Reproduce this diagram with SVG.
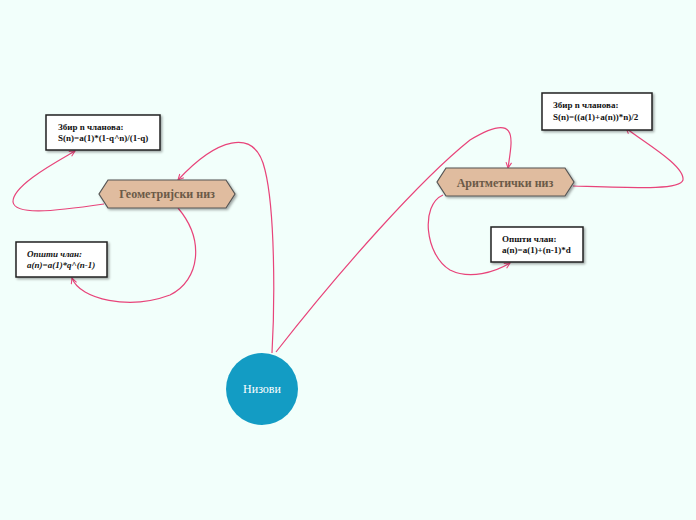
<svg xmlns="http://www.w3.org/2000/svg" width="696" height="520" viewBox="0 0 696 520">
<defs>
<marker id="ah" viewBox="0 0 10 10" refX="9" refY="5" markerWidth="7" markerHeight="7" orient="auto-start-reverse" markerUnits="userSpaceOnUse"><path d="M1,1 L9,5 L1,9" fill="none" stroke="#e8447a" stroke-width="1.5"/></marker>
<filter id="sh" x="-10%" y="-10%" width="130%" height="140%"><feDropShadow dx="1.5" dy="1.5" stdDeviation="1" flood-opacity="0.35"/></filter>
</defs>
<style>
.c{fill:none;stroke:#e8447a;stroke-width:1.2;marker-end:url(#ah)}
.box{fill:#fff;stroke:#222;stroke-width:1.5;filter:url(#sh)}
.hex{fill:#e0bc9f;stroke:#555;stroke-width:1.2;filter:url(#sh)}
.t{font-family:"Liberation Serif",serif;font-weight:bold;font-size:9px;fill:#111}
.h{font-family:"Liberation Serif",serif;font-weight:bold;font-size:12px;fill:#6b5a48}
</style>
<rect width="696" height="520" fill="#f2fffb"/>
<g id="connectors">
<path class="c" d="M272,353 C275,300 275,210 265,170 C255,125 215,140 178,180"/>
<path class="c" d="M276,352 C340,270 420,180 470,140 C520,110 512,140 508,168"/>
<path class="c" d="M104,204 C50,212 15,215 13,202 C12,185 60,160 75,151"/>
<path class="c" d="M178,208 C205,240 200,280 170,295 C130,310 80,300 72,278"/>
<path class="c" d="M573,186 C640,188 680,190 683,180 C685,165 640,140 626,128"/>
<path class="c" d="M443,195 C420,205 425,255 450,270 C470,280 495,272 510,263"/>
</g>
<g id="n-sum-geo"><rect class="box" x="46" y="115" width="114" height="35"/><text class="t" x="58" y="130">Збир n чланова:</text><text class="t" x="58" y="141">S(n)=a(1)*(1-q^n)/(1-q)</text></g>
<g id="n-geo"><polygon class="hex" points="108,180 226,180 235,194 226,208 108,208 99,194"/><text class="h" x="167" y="198" text-anchor="middle">Геометријски низ</text></g>
<g id="n-gen-geo"><rect class="box" x="16" y="242" width="91" height="35"/><text class="t" x="27" y="257" font-style="italic">Општи члан:</text><text class="t" x="27" y="268" font-style="italic">a(n)=a(1)*q^(n-1)</text></g>
<g id="n-sum-ar"><rect class="box" x="542" y="93" width="110" height="37"/><text class="t" x="553" y="108">Збир n чланова:</text><text class="t" x="553" y="120">S(n)=((a(1)+a(n))*n)/2</text></g>
<g id="n-ar"><polygon class="hex" points="446,168 565,168 574,182 565,196 446,196 437,182"/><text class="h" x="505" y="187" text-anchor="middle">Аритметички низ</text></g>
<g id="n-gen-ar"><rect class="box" x="491" y="227" width="92" height="35"/><text class="t" x="502" y="242">Општи члан:</text><text class="t" x="502" y="253">a(n)=a(1)+(n-1)*d</text></g>
<g id="n-root"><circle cx="262" cy="389" r="36" fill="#139cc4"/><text x="262" y="393" text-anchor="middle" font-family="Liberation Serif,serif" font-size="12" fill="#fff">Низови</text></g>
</svg>
